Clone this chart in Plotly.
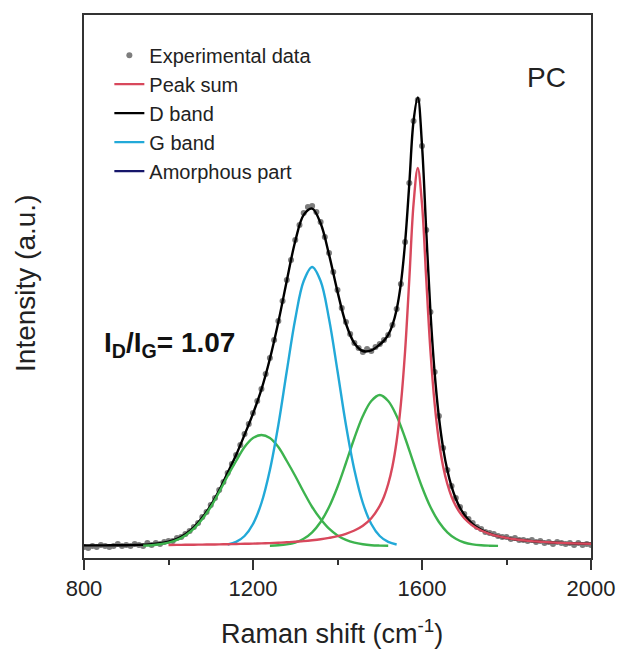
import plotly.graph_objects as go

# ---------------- data ----------------
# Raman shift grid for the experimental spectrum (cm^-1)
exp_x = list(range(800, 2001, 10))
exp_y = [11, 10, 12, 11, 13, 12, 11, 12, 14, 12, 13, 12, 14, 13, 12, 15, 13, 15, 14, 16,
         17, 17, 20, 21, 24, 27, 31, 35, 41, 46, 53, 60, 68, 76, 85, 94, 103, 113, 124, 134,
         145, 157, 169, 184, 200, 218, 237, 257, 278, 298, 318, 333, 345, 351, 352, 346, 336, 321, 305, 286,
         268, 250, 236, 224, 215, 210, 206, 209, 207, 211, 214, 218, 223, 233, 249, 274, 316, 375, 437, 458,
         412, 328, 246, 186, 142, 110, 88, 72, 60, 51, 44, 39, 35, 31, 29, 26, 25, 24, 22, 21,
         21, 19, 20, 18, 18, 17, 18, 16, 17, 15, 16, 14, 16, 15, 14, 15, 13, 15, 13, 14, 13]

# total fit (black)
sum_x = list(range(800, 1500, 20)) + list(range(1500, 1700, 10)) + list(range(1700, 2001, 20))
sum_y = [12.6, 12.6, 12.6, 12.7, 12.7, 12.8, 13.0, 13.3, 13.7, 14.7,
         16.3, 19.2, 23.8, 30.6, 40.4, 52.5, 67.6, 85.3, 103.0, 123.2,
         144.4, 168.6, 199.2, 236.0, 277.3, 316.8, 343.1, 349.4, 334.7, 303.4,
         266.4, 234.3, 214.8, 207.0, 207.6,
         213.5, 217.4, 223.1, 232.9, 248.5, 274.3, 315.5, 374.3, 437.0, 460.6,
         413.0, 327.5, 246.0, 184.9, 141.0, 109.9, 87.7, 71.3, 59.3, 50.2,
         43.3, 33.9, 28.2, 24.5, 21.8, 20.1, 18.7, 17.7, 16.9, 16.3, 15.7, 15.3, 14.9, 14.6, 14.4, 14.2]

# G-type peak near 1590 (red)
red_x = list(range(1000, 1500, 20)) + list(range(1500, 1700, 10)) + list(range(1700, 2001, 20))
red_y = [13.0, 13.1, 13.2, 13.3, 13.4, 13.5, 13.6, 13.8, 14.0, 14.2, 14.4, 14.6, 14.9, 15.3, 15.7,
         16.3, 16.9, 17.7, 18.7, 20.1, 21.8, 24.2, 27.5, 32.3, 39.8,
         52.1, 61.3, 74.0, 91.6, 117, 154, 207, 279, 354, 390,
         354, 279, 207, 154, 117, 91.6, 74.0, 61.3, 52.1, 45.1,
         39.8, 32.3, 27.5, 24.2, 21.8, 20.1, 18.7, 17.7, 16.9, 16.3, 15.7, 15.3, 14.9, 14.6, 14.4, 14.2]

# D-type peak near 1340 (cyan)
cyan_x = list(range(1140, 1541, 20))
cyan_y = [13.5, 16.1, 22, 34, 55, 88, 133, 187, 239, 277, 291, 277, 239, 187, 133, 88, 55, 34, 22, 16.1, 13.5]

# broad components (green)
g1_x = list(range(940, 1521, 20))
g1_y = [12.4, 12.8, 13.7, 15.3, 18.1, 22.6, 29.3, 39, 51, 66, 82, 97, 111, 120, 123,
        120, 111, 97, 82, 66, 51, 39, 29.3, 22.6, 18.1, 15.3, 13.7, 12.8, 12.4, 12.2]
g2_x = list(range(1240, 1781, 20))
g2_y = [12.3, 12.7, 13.6, 15.5, 19.2, 25.7, 36, 51, 71, 95, 120, 142, 157, 163,
        157, 142, 120, 95, 71, 51, 36, 25.7, 19.2, 15.5, 13.6, 12.7, 12.3, 12.1]

x_ticks = [800, 1200, 1600, 2000]
x_minor = [1000, 1400, 1800]

RED = "#d8485c"
CYAN = "#22a9d8"
GREEN = "#3db34e"
NAVY = "#16166a"
GRAY = "#7d7d7d"

fig = go.Figure()
fig.add_trace(go.Scatter(x=exp_x, y=exp_y, mode="markers", name="Experimental data",
                         marker=dict(symbol="circle", size=6, color=GRAY), legendrank=1))
fig.add_trace(go.Scatter(x=sum_x, y=sum_y, mode="lines", name="D band", line_shape="spline",
                         line=dict(color="black", width=2.4), legendrank=3))
fig.add_trace(go.Scatter(x=g1_x, y=g1_y, mode="lines", line_shape="spline", showlegend=False,
                         line=dict(color=GREEN, width=2.4)))
fig.add_trace(go.Scatter(x=g2_x, y=g2_y, mode="lines", line_shape="spline", showlegend=False,
                         line=dict(color=GREEN, width=2.4)))
fig.add_trace(go.Scatter(x=cyan_x, y=cyan_y, mode="lines", name="G band", line_shape="spline",
                         line=dict(color=CYAN, width=2.4), legendrank=4))
fig.add_trace(go.Scatter(x=red_x, y=red_y, mode="lines", name="Peak sum", line_shape="spline",
                         line=dict(color=RED, width=2.4), legendrank=2))
fig.add_trace(go.Scatter(x=[None], y=[None], mode="lines", name="Amorphous part",
                         line=dict(color=NAVY, width=2.4), legendrank=5))

fig.update_layout(
    width=627, height=655,
    margin=dict(l=84, r=27, t=15, b=97),
    plot_bgcolor="white", paper_bgcolor="white",
    font=dict(family="Liberation Sans, Arial, sans-serif", size=20, color="#222"),
    legend=dict(x=0.05, y=0.962, xanchor="left", yanchor="top",
                bgcolor="rgba(0,0,0,0)", font=dict(size=20, color="#222"), tracegroupgap=0),
    xaxis=dict(range=[800, 2000], showline=True, linecolor="#333", linewidth=1.5, mirror=True,
               ticks="outside", ticklen=10, tickwidth=1.5, tickcolor="#333",
               tickvals=x_ticks, tickfont=dict(size=22, color="#222"),
               showgrid=False, zeroline=False,
               minor=dict(tickvals=x_minor, ticks="outside", ticklen=5, tickwidth=1.5,
                          tickcolor="#333", showgrid=False)),
    yaxis=dict(range=[0, 543], showline=True, linecolor="#333", linewidth=1.5, mirror=True,
               showticklabels=False, ticks="", showgrid=False, zeroline=False),
    annotations=[
        dict(text="Raman shift (cm<sup>-1</sup>)", xref="paper", yref="paper", x=0.49, y=-0.136,
             xanchor="center", yanchor="middle", showarrow=False, font=dict(size=27, color="#222")),
        dict(text="Intensity (a.u.)", xref="paper", yref="paper", x=-0.115, y=0.506,
             xanchor="center", yanchor="middle", textangle=-90, showarrow=False,
             font=dict(size=28, color="#222")),
        dict(text="<b>I<sub>D</sub>/I<sub>G</sub>= 1.07</b>", xref="paper", yref="paper",
             x=0.035, y=0.394, xanchor="left", yanchor="middle", showarrow=False,
             font=dict(size=28, color="#111")),
        dict(text="PC", xref="paper", yref="paper", x=0.913, y=0.884, xanchor="center",
             yanchor="middle", showarrow=False, font=dict(size=28, color="#222")),
    ],
)

fig.write_html("out.html")
